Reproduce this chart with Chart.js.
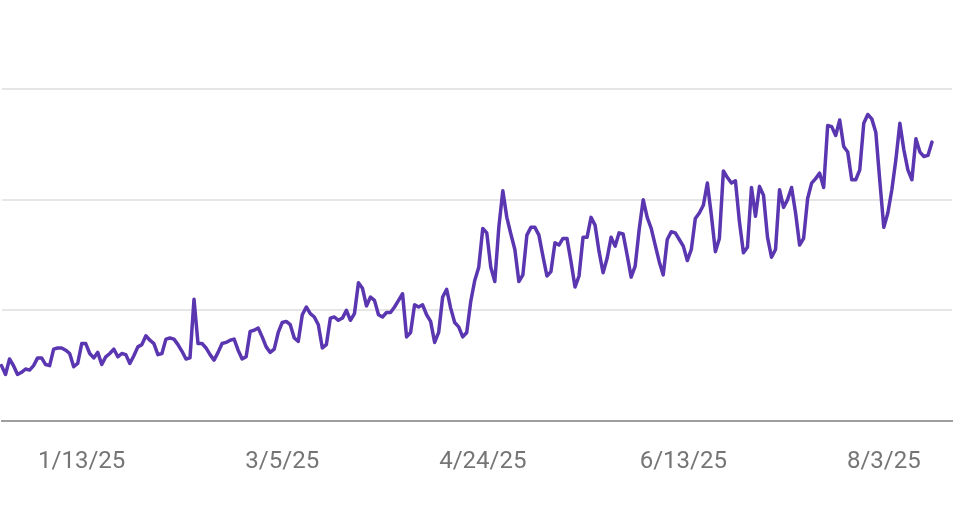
<!DOCTYPE html>
<html>
<head>
<meta charset="utf-8">
<script src="https://cdn.jsdelivr.net/npm/chart.js@4.4.1/dist/chart.umd.min.js"></script>
<style>
  html, body { margin: 0; padding: 0; background: #ffffff; }
  #wrap { width: 970px; height: 510px; position: relative; }
</style>
</head>
<body>
<div id="wrap"><canvas id="c"></canvas></div>
<script>
// Daily series values (hidden y-axis, gridlines at 100, 200, 300)
const values = [
  50, 42, 56, 50, 42, 44, 47, 46, 50, 57,
  57, 51, 50, 65, 66, 66, 64, 61, 49, 52,
  70, 70, 61, 57, 62, 51, 58, 61, 65, 58,
  61, 60, 52, 59, 67, 69, 77, 73, 70, 60,
  61, 74, 75, 74, 69, 63, 56, 57, 110, 70,
  70, 66, 60, 55, 62, 70, 71, 73, 74, 64,
  56, 58, 81, 82, 84, 76, 67, 62, 65, 80,
  89, 90, 87, 75, 72, 96, 103, 97, 94, 87,
  66, 69, 93, 94, 91, 93, 100, 91, 97, 125,
  120, 104, 112, 109, 96, 94, 98, 98, 103, 109,
  115, 76, 80, 105, 103, 105, 96, 90, 71, 80,
  112, 119, 102, 89, 85, 76, 80, 108, 127, 139,
  174, 170, 139, 126, 175, 208, 184, 169, 155, 126,
  132, 168, 175, 175, 168, 149, 131, 135, 161, 159,
  165, 165, 144, 121, 131, 166, 166, 184, 177, 153,
  134, 147, 166, 158, 170, 169, 150, 130, 140, 173,
  200, 184, 174, 159, 144, 132, 164, 171, 170, 164,
  158, 145, 155, 183, 188, 195, 215, 186, 153, 165,
  226, 220, 215, 217, 180, 152, 157, 211, 185, 212,
  204, 166, 148, 155, 209, 193, 200, 211, 188, 159,
  165, 201, 215, 219, 224, 211, 267, 266, 258, 272,
  248, 243, 218, 218, 227, 269, 277, 273, 261, 217,
  175, 188, 209, 236, 269, 245, 227, 218, 255, 243,
  239, 240, 252
];
const categoryCount = 238;
const categories = Array.from({ length: categoryCount }, (_, i) => i);
const tickIndexes = [20, 70, 120, 170, 220];
const tickLabels = ['1/13/25', '3/5/25', '4/24/25', '6/13/25', '8/3/25'];
const yTicks = [0, 100, 200, 300];

const ctx = document.getElementById('c');
new Chart(ctx, {
  type: 'line',
  data: {
    labels: categories,
    datasets: [{
      data: values,
      borderColor: '#5a36b0',
      borderWidth: 3.5,
      pointRadius: 0,
      tension: 0,
      fill: false,
      borderJoinStyle: 'round',
      borderCapStyle: 'round'
    }]
  },
  options: {
    responsive: true,
    maintainAspectRatio: false,
    animation: false,
    events: [],
    layout: { padding: { left: 1.5, right: 18, top: 89, bottom: 0 } },
    plugins: { legend: { display: false }, tooltip: { enabled: false } },
    scales: {
      x: {
        type: 'category',
        offset: false,
        grid: {
          display: true,
          drawOnChartArea: false,
          drawTicks: true,
          tickLength: 27,
          tickColor: 'rgba(0,0,0,0)',
          color: 'rgba(0,0,0,0)'
        },
        border: { display: true, color: '#9e9e9e', width: 2 },
        ticks: {
          autoSkip: false,
          maxRotation: 0,
          minRotation: 0,
          padding: 0,
          color: '#757575',
          font: { family: 'Roboto', size: 24 },
          callback: function (val, idx) {
            const k = tickIndexes.indexOf(idx);
            return k >= 0 ? tickLabels[k] : '';
          }
        },
        afterFit: function (s) { s.height = 89; }
      },
      y: {
        min: yTicks[0],
        max: yTicks[yTicks.length - 1],
        afterBuildTicks: function (s) { s.ticks = yTicks.map(v => ({ value: v })); },
        grid: { color: '#e6e6e6', lineWidth: 2, drawTicks: false },
        border: { display: false },
        ticks: { display: false, padding: 0 },
        afterFit: function (s) { s.width = 0; }
      }
    }
  }
});
</script>
</body>
</html>
